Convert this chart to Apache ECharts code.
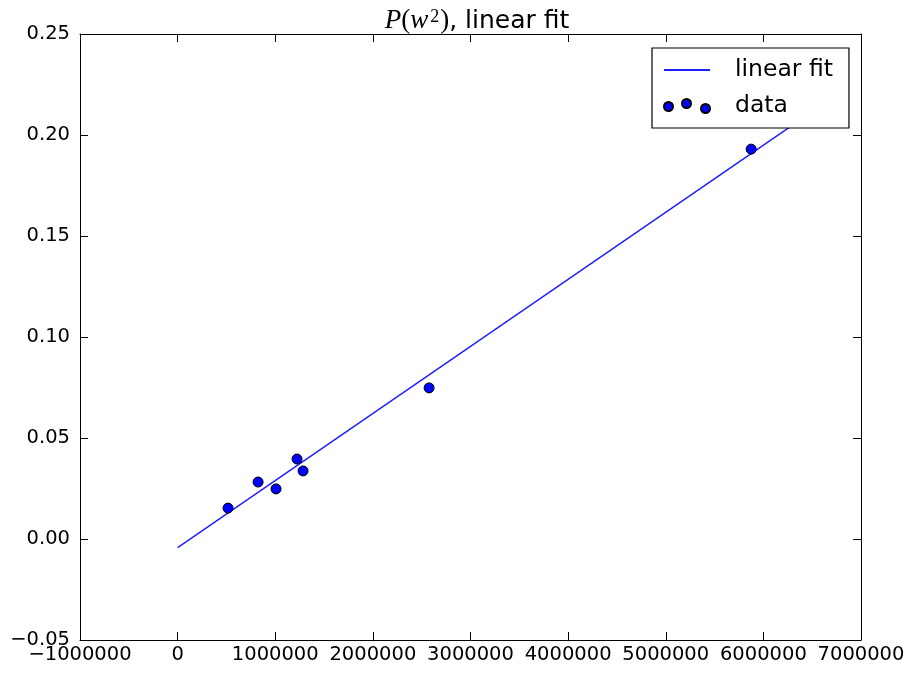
<!DOCTYPE html>
<html>
<head>
<meta charset="utf-8">
<script src="https://cdn.jsdelivr.net/npm/echarts@6/dist/echarts.min.js"></script>
<style>html,body{margin:0;padding:0;background:#fff;}#c{width:909px;height:673px;}</style>
</head>
<body>
<div id="c"></div>
<script>
// data points (w^2, P)
var dataX = [516000, 824000, 1008000, 1223000, 1285000, 2576000, 5875000];
var dataY = [0.0153, 0.0282, 0.0248, 0.0396, 0.0337, 0.0748, 0.1930];
// linear fit endpoints
var fitX = [0, 6400000];
var fitY = [-0.0043, 0.2082];
// axis ticks
var xTicks = [-1000000, 0, 1000000, 2000000, 3000000, 4000000, 5000000, 6000000, 7000000];
var yTicks = [-0.05, 0.00, 0.05, 0.10, 0.15, 0.20, 0.25];

var FONT = 'DejaVu Sans';
function minus(s){ return String(s).replace('-', '\u2212'); }

var scatterData = dataX.map(function(x,i){ return [x, dataY[i]]; });
var fitData = fitX.map(function(x,i){ return [x, fitY[i]]; });

var dotsIcon = 'path://M0,7.5a4.5,4.5 0 1,0 9,0a4.5,4.5 0 1,0 -9,0Z' +
  'M18,4.5a4.5,4.5 0 1,0 9,0a4.5,4.5 0 1,0 -9,0Z' +
  'M37,9.5a4.5,4.5 0 1,0 9,0a4.5,4.5 0 1,0 -9,0Z';

var axisCommon = {
  axisLine: {show: true, onZero: false, lineStyle: {color: '#000', width: 1}},
  axisTick: {show: true, inside: true, length: 8, lineStyle: {color: '#000', width: 1}},
  splitLine: {show: false}
};

function xAxis(pos, showLabel){
  return Object.assign({
    type: 'value', position: pos,
    min: xTicks[0], max: xTicks[xTicks.length-1], interval: xTicks[1]-xTicks[0],
    axisLabel: {show: showLabel, margin: 5, color: '#000', fontFamily: FONT, fontSize: 19.5,
      formatter: function(v){ return minus(v); }}
  }, axisCommon);
}
function yAxis(pos, showLabel){
  return Object.assign({
    type: 'value', position: pos,
    min: yTicks[0], max: yTicks[yTicks.length-1], interval: 0.05,
    axisLabel: {show: showLabel, margin: 10, color: '#000', fontFamily: FONT, fontSize: 19.5,
      formatter: function(v){ return minus(v.toFixed(2)); }}
  }, axisCommon);
}

var SERIF = 'Liberation Serif';
var chart = echarts.init(document.getElementById('c'), null, {renderer: 'canvas'});
chart.setOption({
  backgroundColor: '#fff',
  animation: false,
  title: {
    text: '{i|P}{n|(}{i|w}{s|2}{n|)}{t|, linear fit}',
    left: 472, top: 0, textAlign: 'center',
    textStyle: {
      fontWeight: 'normal',
      rich: {
        i: {fontFamily: SERIF, fontStyle: 'italic', fontWeight: 'normal', fontSize: 27, lineHeight: 32, color: '#000'},
        n: {fontFamily: SERIF, fontWeight: 'normal', fontSize: 27, lineHeight: 32, color: '#000'},
        s: {fontFamily: SERIF, fontWeight: 'normal', fontSize: 18, lineHeight: 18, color: '#000', verticalAlign: 'top', padding: [3,1,0,2]},
        t: {fontFamily: FONT, fontWeight: 'normal', fontSize: 25, lineHeight: 32, color: '#000'}
      }
    }
  },
  grid: {left: 80, right: 48, top: 34, bottom: 33, containLabel: false},
  xAxis: [xAxis('bottom', true), xAxis('top', false)],
  yAxis: [yAxis('left', true), yAxis('right', false)],
  legend: {
    orient: 'vertical',
    left: 652, top: 48,
    padding: [8, 16, 8, 11],
    itemGap: 8,
    itemWidth: 46, itemHeight: 14,
    backgroundColor: '#fff',
    borderColor: '#000', borderWidth: 1.2,
    textStyle: {fontFamily: FONT, fontSize: 23.5, color: '#000', padding: [0,0,0,20], lineHeight: 28},
    data: [
      {name: 'linear fit', itemStyle: {color: 'rgba(0,0,0,0)', borderWidth: 0, borderColor: 'rgba(0,0,0,0)'}},
      {name: 'data', icon: dotsIcon}
    ]
  },
  series: [
    {
      name: 'linear fit', type: 'line', xAxisIndex: 0, yAxisIndex: 0,
      data: fitData, symbol: 'none', showSymbol: false,
      lineStyle: {color: '#2020ff', width: 1.5},
      itemStyle: {color: '#2020ff'},
      z: 2
    },
    {
      name: 'data', type: 'scatter', xAxisIndex: 0, yAxisIndex: 0,
      data: scatterData, symbol: 'circle', symbolSize: 10,
      itemStyle: {color: '#0000ff', borderColor: '#000', borderWidth: 1, opacity: 1},
      z: 3
    }
  ]
});
</script>
</body>
</html>
